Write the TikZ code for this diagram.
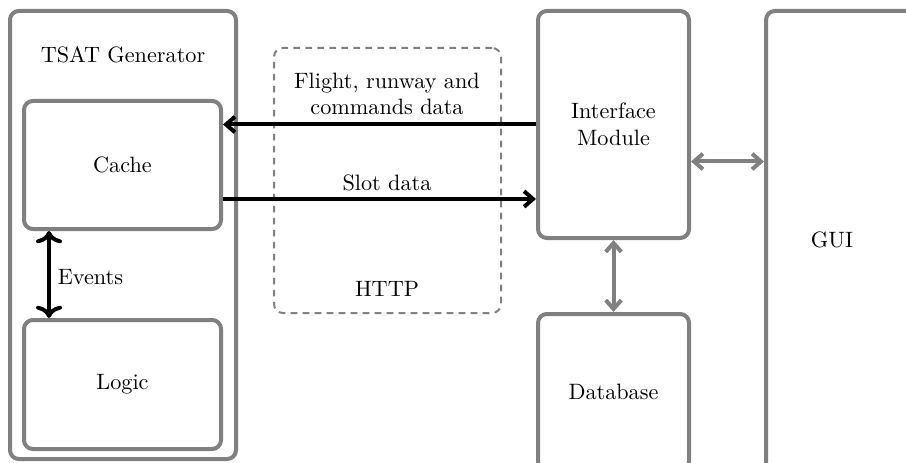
\documentclass[tikz,border=0pt]{standalone}
\usetikzlibrary{calc,arrows.meta}

\begin{document}
\begin{tikzpicture}[x=0.45pt, y=-0.45pt,
			block/.style={rectangle, draw=gray, rounded corners=4pt, line width=1.8pt, inner sep=0pt},
			dashbox/.style={rectangle, draw=gray, dashed, dash pattern=on 3pt off 2.4pt, rounded corners=4pt, line width=0.9pt, inner sep=0pt},
			flow/.style={line width=1.8pt, -{Straight Barb[length=4pt,width=7pt]}},
			link/.style={draw=gray, line width=1.8pt, {Straight Barb[length=4pt,width=7pt]}-{Straight Barb[length=4pt,width=7pt]}}
			]
			
			\clip (0,0) rectangle (906,462);
			
			% Boxes
			\node[block, minimum width=226*0.45pt, minimum height=448*0.45pt] (tsat) at (123,235) {};
			\node (tsatlbl) at (123,55) {TSAT Generator};
			\node[block, minimum width=197*0.45pt, minimum height=128*0.45pt] (cache) at (122.5,165) {Cache};
			\node[block, minimum width=197*0.45pt, minimum height=129*0.45pt] (logic) at (122.5,384.5) {Logic};
			
			\node[dashbox, minimum width=227*0.45pt, minimum height=265*0.45pt] (http) at (387.5,180.5) {};
			\node (flight) at (387,94) [align=center] {Flight, runway and\\commands data};
			\node (slot) at (387,183) {Slot data};
			\node (httplbl) at (387,289) {HTTP};
			
			\node[block, minimum width=151*0.45pt, minimum height=227*0.45pt, align=center] (iface) at (613.5,124.5) {Interface\\Module};
			\node[block, minimum width=151*0.45pt, minimum height=156*0.45pt] (db) at (613.5,392) {Database};
			
			\node[block, minimum width=200*0.45pt, minimum height=470*0.45pt] (gui) at (866,246) {};
			\node (guilbl) at (832,240) {GUI};
			
			% Connection points
			\coordinate (slotout) at ([yshift=-34*0.45pt]cache.east);
			\coordinate (evtop) at ([xshift=27*0.45pt]cache.south west);
			\coordinate (guiin) at ([yshift=-37*0.45pt]iface.east);
			
			% Connections
			\draw[flow] (iface.west) -- (iface.west -| cache.east);
			\draw[flow] (slotout) -- (slotout -| iface.west);
			\draw[flow, <->] (evtop) -- (evtop |- logic.north);
			\node[anchor=west] (events) at (50,277) {Events};
			
			\draw[link] (iface.south) -- (db.north);
			\draw[link] (guiin) -- (guiin -| gui.west);
			
		\end{tikzpicture}
\end{document}
